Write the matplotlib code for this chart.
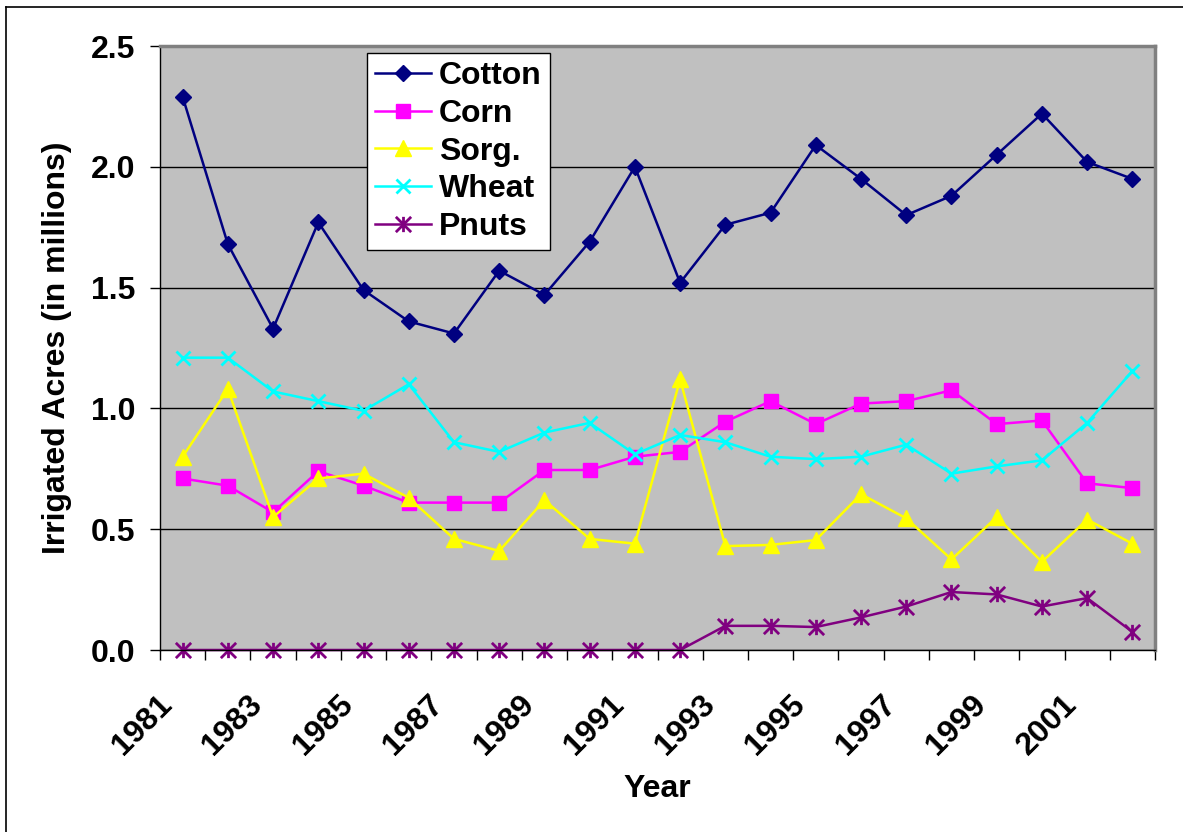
import matplotlib
matplotlib.use("Agg")
import matplotlib.pyplot as plt
import matplotlib.transforms as mtransforms
from matplotlib.lines import Line2D
from matplotlib.path import Path
import numpy as np

# Irrigated acres (millions) by crop, 1981-2002
years = list(range(1981, 2003))
cotton = [2.29, 1.68, 1.33, 1.77, 1.49, 1.36, 1.31, 1.57, 1.47, 1.69, 2.00,
          1.52, 1.76, 1.81, 2.09, 1.95, 1.80, 1.88, 2.05, 2.22, 2.02, 1.95]
corn = [0.71, 0.68, 0.57, 0.74, 0.68, 0.61, 0.61, 0.61, 0.745, 0.745, 0.80,
        0.82, 0.945, 1.03, 0.935, 1.02, 1.03, 1.075, 0.935, 0.95, 0.69, 0.67]
sorg = [0.80, 1.08, 0.55, 0.71, 0.73, 0.63, 0.46, 0.41, 0.62, 0.46, 0.44,
        1.12, 0.43, 0.435, 0.455, 0.645, 0.545, 0.375, 0.55, 0.365, 0.54, 0.44]
wheat = [1.21, 1.21, 1.07, 1.03, 0.99, 1.10, 0.86, 0.82, 0.90, 0.94, 0.81,
         0.89, 0.86, 0.80, 0.79, 0.80, 0.85, 0.73, 0.76, 0.785, 0.94, 1.155]
pnuts = [0, 0, 0, 0, 0, 0, 0, 0, 0, 0, 0,
         0, 0.10, 0.10, 0.095, 0.135, 0.18, 0.24, 0.23, 0.18, 0.215, 0.075]

plt.rcParams['font.family'] = ['Liberation Sans', 'DejaVu Sans']
plt.rcParams['font.weight'] = 'bold'
FS = 23

# excel style star: vertical bar plus an x
star = Path([(0, -1), (0, 1), (-1, -1), (1, 1), (-1, 1), (1, -1)],
            [Path.MOVETO, Path.LINETO, Path.MOVETO, Path.LINETO, Path.MOVETO, Path.LINETO])

fig = plt.figure(figsize=(11.83, 8.32), dpi=100)
ax = fig.add_axes([160/1183, 1 - 650/832, 995/1183, 604/832])
ax.set_facecolor('#C0C0C0')

x = np.arange(len(years))
ax.plot(x, cotton, color='#000080', lw=1.8, marker='D', ms=8, label='Cotton', clip_on=False)
ax.plot(x, corn, color='#FF00FF', lw=1.8, marker='s', ms=10, label='Corn', clip_on=False)
ax.plot(x, sorg, color='#FFFF00', lw=1.8, marker='^', ms=11, label='Sorg.', clip_on=False)
ax.plot(x, wheat, color='#00FFFF', lw=1.8, marker='x', ms=10, mew=2, label='Wheat', clip_on=False)
ax.plot(x, pnuts, color='#800080', lw=1.8, marker=star, ms=11, mew=2, label='Pnuts', clip_on=False)

ax.set_xlim(-0.5, len(years) - 0.5)
ax.set_ylim(0, 2.5)
ax.set_yticks([0, 0.5, 1.0, 1.5, 2.0, 2.5])
ax.set_yticklabels(['%.1f' % v for v in [0, 0.5, 1.0, 1.5, 2.0, 2.5]])
ax.yaxis.grid(True, color='black', lw=1)
ax.set_axisbelow(True)

ax.set_xticks(x[::2])
ax.set_xticklabels([str(y) for y in years[::2]], rotation=45, ha='right', va='center',
                   rotation_mode='anchor')
ax.set_xticks(np.arange(-0.5, len(years)), minor=True)
ax.tick_params(axis='x', which='major', length=0, pad=36, labelsize=FS)
ax.tick_params(axis='x', which='minor', length=7.2, width=1, direction='out')
ax.tick_params(axis='y', length=7.2, width=1, pad=10.8, labelsize=FS)
shift = mtransforms.ScaledTranslation(-0.15, 0, fig.dpi_scale_trans)
for lab in ax.get_xticklabels():
    lab.set_transform(lab.get_transform() + shift)

for s in ['top', 'right']:
    ax.spines[s].set_color('#808080')
    ax.spines[s].set_linewidth(2.5)
for s in ['left', 'bottom']:
    ax.spines[s].set_color('black')
    ax.spines[s].set_linewidth(1)

ax.set_ylabel('Irrigated Acres (in millions)', fontsize=FS, fontweight='bold')
ax.yaxis.set_label_coords(-0.088, 0.5)
ax.set_xlabel('Year', fontsize=FS, fontweight='bold')
ax.xaxis.set_label_coords(0.5, -0.205)

leg = ax.legend(loc='upper left', bbox_to_anchor=(0.208, 0.988), fontsize=FS,
                handlelength=1.75, handletextpad=0.25, labelspacing=0.24,
                borderpad=0.25, borderaxespad=0, fancybox=False, framealpha=1,
                edgecolor='black')
leg.get_frame().set_linewidth(1)

# outer chart border (left and top)
fig.add_artist(Line2D([6/1183, 6/1183], [0, 1 - 7/832], color='black', lw=1.2))
fig.add_artist(Line2D([6/1183, 1], [1 - 7/832, 1 - 7/832], color='black', lw=1.2))

fig.savefig('out.png', dpi=100)
